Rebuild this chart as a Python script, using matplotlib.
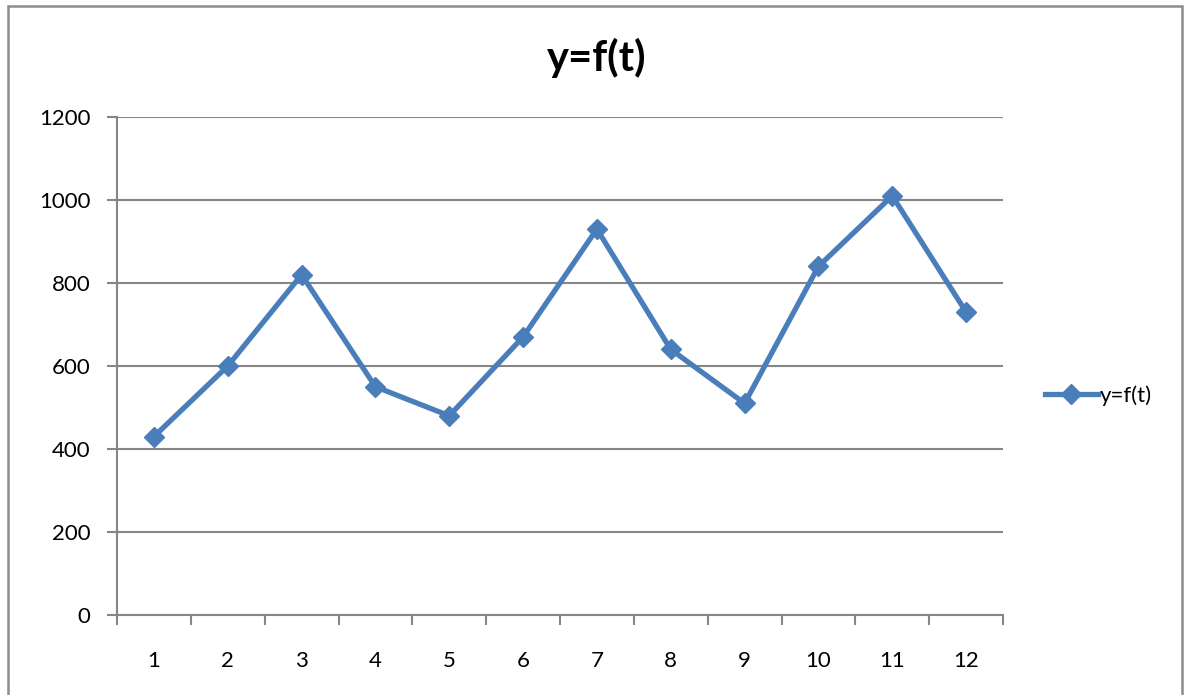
import matplotlib
matplotlib.use("Agg")
import matplotlib.pyplot as plt
from matplotlib.patches import Rectangle

t = [1, 2, 3, 4, 5, 6, 7, 8, 9, 10, 11, 12]
y = [430, 600, 820, 550, 480, 670, 930, 640, 510, 840, 1010, 730]
yticks = [0, 200, 400, 600, 800, 1000, 1200]

plt.rcParams['font.family'] = ['Lato', 'DejaVu Sans']
grid_c = '#868686'
line_c = '#4a7ebb'

fig = plt.figure(figsize=(11.86, 6.95), dpi=100)
fig.patch.set_facecolor('white')
# outer chart border
fig.patches.append(Rectangle((8 / 1186, -0.05), 1174 / 1186, 1 - 6 / 695 + 0.05,
                             transform=fig.transFigure, fill=False,
                             edgecolor='#8c8c8c', linewidth=1.8))

ax = fig.add_axes([117 / 1186, 1 - 615 / 695, 886 / 1186, 498 / 695])
ax.plot(t, y, color=line_c, linewidth=3.8, marker='D', markersize=10.5,
        label='y=f(t)')

ax.set_xlim(0.5, 12.5)
ax.set_ylim(0, 1200)
ax.set_yticks(yticks)
ax.set_xticks(t)
ax.set_xticks([i + 0.5 for i in range(0, 13)], minor=True)
ax.tick_params(axis='x', which='major', length=0, pad=26, labelsize=16)
ax.tick_params(axis='x', which='minor', length=7, width=1.5, color=grid_c, direction='out')
ax.tick_params(axis='y', length=7, width=1.5, color=grid_c, pad=12, labelsize=16)
ax.yaxis.grid(True, color=grid_c, linewidth=1.5)
ax.set_axisbelow(True)
for s in ['top', 'right']:
    ax.spines[s].set_visible(False)
for s in ['left', 'bottom']:
    ax.spines[s].set_color(grid_c)
    ax.spines[s].set_linewidth(1.5)

fig.text(597 / 1186, 1 - 58 / 695, 'y=f(t)', ha='center', va='center',
         fontsize=30, fontweight='bold')

ax.legend(loc='center left', bbox_to_anchor=(1.037, 0.44), frameon=False,
          fontsize=16, handlelength=2.4, handletextpad=0.1, borderaxespad=0)

fig.savefig('out.png', dpi=100)
